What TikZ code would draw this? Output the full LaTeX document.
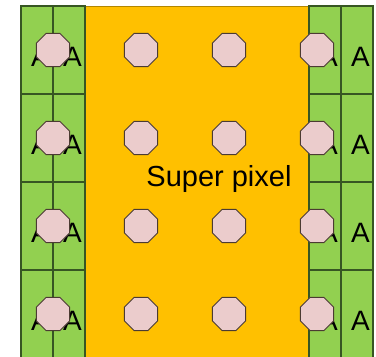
\documentclass[tikz,border=0pt]{standalone}
\usepackage{fontspec}
\setmainfont{Liberation Sans}
\usetikzlibrary{shapes.geometric}
\definecolor{cellgreen}{HTML}{92D050}
\definecolor{gridgreen}{HTML}{375623}
\definecolor{superorange}{HTML}{FFC000}
\definecolor{pixelpink}{HTML}{EBCCCC}
\definecolor{pixeledge}{HTML}{4B3B32}
\newcommand{\Cell}[3]{%
    % #1 : x (left)
    % #2 : y (top)
    % #3 : name
    \begin{scope}
        \filldraw[fill=cellgreen, draw=gridgreen, line width=1.2pt]
        (#1,#2) rectangle ++(32,88);
        \node[letter] (#3) at (#1+19.5,#2+51) {A};
    \end{scope}
}
\newcommand{\Pixel}[3]{%
    % #1 : x
    % #2 : y
    % #3 : name
    \node[pixel] (#3) at (#1,#2) {};
}

\begin{document}
\begin{tikzpicture}[
        x=1pt, y=-1pt,
        letter/.style={inner sep=0pt, font=\fontsize{28}{30}\selectfont},
        pixel/.style={regular polygon, regular polygon sides=8,
            minimum size=36pt, inner sep=0pt,
            fill=pixelpink, draw=pixeledge, line width=0.8pt},
    ]
    \useasboundingbox (0,0) rectangle (376,357);

    % super pixel in the middle
    \filldraw[fill=superorange, draw=superorange!70!black, line width=0.6pt]
    (85,6) rectangle (309,362);
    \node[anchor=base, inner sep=0pt, font=\fontsize{29}{31}\selectfont]
    (super) at (219,186) {Super pixel};

    % left columns
    \Cell{21}{6}{a-1-1}   \Cell{53}{6}{a-1-2}
    \Cell{21}{94}{a-2-1}  \Cell{53}{94}{a-2-2}
    \Cell{21}{182}{a-3-1} \Cell{53}{182}{a-3-2}
    \Cell{21}{270}{a-4-1} \Cell{53}{270}{a-4-2}

    % right columns
    \Cell{309}{6}{a-1-3}   \Cell{341}{6}{a-1-4}
    \Cell{309}{94}{a-2-3}  \Cell{341}{94}{a-2-4}
    \Cell{309}{182}{a-3-3} \Cell{341}{182}{a-3-4}
    \Cell{309}{270}{a-4-3} \Cell{341}{270}{a-4-4}

    % pixels
    \Pixel{53}{50}{p-1-1}  \Pixel{141}{50}{p-1-2}  \Pixel{229}{50}{p-1-3}  \Pixel{317}{50}{p-1-4}
    \Pixel{53}{138}{p-2-1} \Pixel{141}{138}{p-2-2} \Pixel{229}{138}{p-2-3} \Pixel{317}{138}{p-2-4}
    \Pixel{53}{226}{p-3-1} \Pixel{141}{226}{p-3-2} \Pixel{229}{226}{p-3-3} \Pixel{317}{226}{p-3-4}
    \Pixel{53}{314}{p-4-1} \Pixel{141}{314}{p-4-2} \Pixel{229}{314}{p-4-3} \Pixel{317}{314}{p-4-4}

\end{tikzpicture}
\end{document}
